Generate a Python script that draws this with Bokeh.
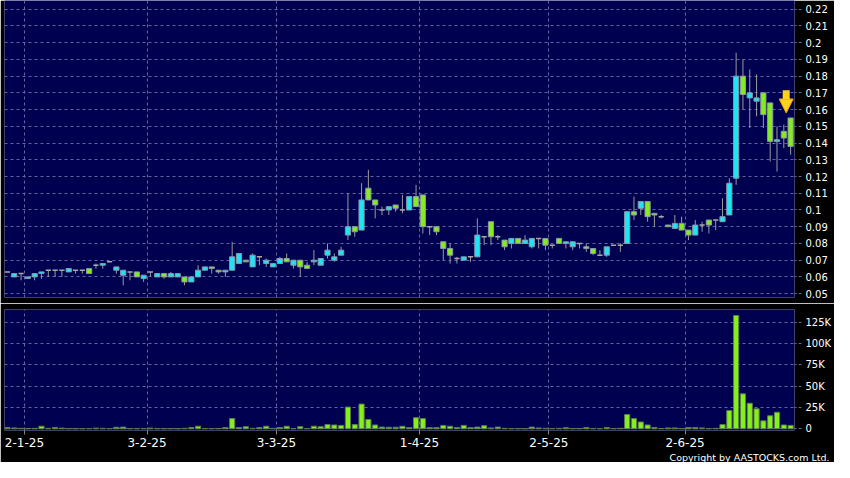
from bokeh.plotting import figure
from bokeh.layouts import column
from bokeh.models import Range1d, FixedTicker, Title, Arrow, NormalHead
from bokeh.embed import file_html
from bokeh.resources import INLINE

# ---- data (one entry per trading day, oldest first) ----
opens = [0.063, 0.060, 0.062, 0.059, 0.060, 0.062, 0.064, 0.064, 0.064, 0.063,
         0.064, 0.064, 0.065, 0.067, 0.067, 0.069, 0.064, 0.061, 0.063, 0.063,
         0.059, 0.063, 0.060, 0.062, 0.060, 0.060, 0.060, 0.057, 0.060, 0.064,
         0.066, 0.064, 0.063, 0.064, 0.068, 0.070, 0.066, 0.072, 0.068, 0.066,
         0.068, 0.071, 0.067, 0.070, 0.067, 0.069, 0.067, 0.073, 0.070, 0.073,
         0.085, 0.090, 0.088, 0.113, 0.106, 0.100, 0.100, 0.103, 0.100, 0.100,
         0.108, 0.109, 0.090, 0.090, 0.081, 0.077, 0.071, 0.070, 0.072, 0.072,
         0.084, 0.093, 0.084, 0.082, 0.080, 0.083, 0.080, 0.078, 0.083, 0.083,
         0.079, 0.083, 0.080, 0.078, 0.080, 0.078, 0.077, 0.073, 0.073, 0.079,
         0.079, 0.080, 0.099, 0.101, 0.105, 0.098, 0.096, 0.091, 0.089, 0.092,
         0.088, 0.085, 0.091, 0.094, 0.094, 0.093, 0.097, 0.119, 0.180, 0.167,
         0.165, 0.170, 0.164, 0.141, 0.147, 0.155]
highs = [0.063, 0.062, 0.062, 0.060, 0.062, 0.063, 0.064, 0.064, 0.064, 0.065,
         0.064, 0.064, 0.065, 0.068, 0.068, 0.069, 0.066, 0.064, 0.063, 0.063,
         0.061, 0.063, 0.062, 0.062, 0.063, 0.062, 0.060, 0.060, 0.067, 0.066,
         0.066, 0.064, 0.064, 0.081, 0.074, 0.070, 0.074, 0.072, 0.071, 0.068,
         0.072, 0.074, 0.070, 0.070, 0.069, 0.076, 0.071, 0.080, 0.074, 0.078,
         0.110, 0.090, 0.116, 0.124, 0.106, 0.102, 0.102, 0.103, 0.109, 0.108,
         0.115, 0.109, 0.090, 0.090, 0.081, 0.080, 0.072, 0.072, 0.072, 0.095,
         0.084, 0.093, 0.085, 0.082, 0.083, 0.083, 0.085, 0.083, 0.083, 0.083,
         0.079, 0.083, 0.081, 0.081, 0.080, 0.080, 0.077, 0.076, 0.078, 0.079,
         0.080, 0.099, 0.108, 0.105, 0.105, 0.098, 0.097, 0.091, 0.097, 0.096,
         0.088, 0.094, 0.093, 0.094, 0.094, 0.107, 0.119, 0.194, 0.190, 0.184,
         0.181, 0.170, 0.164, 0.150, 0.151, 0.155]
lows = [0.063, 0.060, 0.058, 0.059, 0.058, 0.059, 0.060, 0.060, 0.060, 0.063,
        0.062, 0.062, 0.062, 0.065, 0.065, 0.069, 0.062, 0.055, 0.058, 0.060,
        0.057, 0.060, 0.060, 0.059, 0.060, 0.060, 0.055, 0.057, 0.060, 0.064,
        0.062, 0.062, 0.060, 0.064, 0.068, 0.069, 0.066, 0.067, 0.066, 0.066,
        0.068, 0.069, 0.065, 0.060, 0.065, 0.067, 0.067, 0.071, 0.069, 0.073,
        0.082, 0.084, 0.088, 0.106, 0.095, 0.097, 0.097, 0.099, 0.098, 0.100,
        0.102, 0.086, 0.085, 0.085, 0.070, 0.068, 0.068, 0.070, 0.069, 0.072,
        0.079, 0.079, 0.082, 0.076, 0.077, 0.080, 0.080, 0.077, 0.077, 0.076,
        0.077, 0.080, 0.077, 0.076, 0.077, 0.075, 0.073, 0.073, 0.072, 0.079,
        0.075, 0.080, 0.094, 0.097, 0.093, 0.090, 0.095, 0.090, 0.089, 0.088,
        0.082, 0.085, 0.087, 0.086, 0.088, 0.093, 0.097, 0.115, 0.160, 0.149,
        0.156, 0.149, 0.129, 0.123, 0.137, 0.133]
closes = [0.063, 0.062, 0.062, 0.060, 0.062, 0.063, 0.064, 0.064, 0.064, 0.065,
          0.064, 0.064, 0.062, 0.067, 0.068, 0.069, 0.066, 0.064, 0.063, 0.060,
          0.061, 0.063, 0.062, 0.060, 0.062, 0.062, 0.057, 0.060, 0.064, 0.066,
          0.065, 0.063, 0.064, 0.072, 0.074, 0.069, 0.073, 0.072, 0.070, 0.068,
          0.071, 0.069, 0.070, 0.066, 0.065, 0.070, 0.071, 0.076, 0.072, 0.076,
          0.090, 0.087, 0.106, 0.106, 0.103, 0.100, 0.102, 0.101, 0.100, 0.108,
          0.102, 0.090, 0.090, 0.087, 0.077, 0.073, 0.071, 0.072, 0.072, 0.085,
          0.084, 0.084, 0.084, 0.078, 0.083, 0.080, 0.082, 0.083, 0.083, 0.079,
          0.079, 0.080, 0.081, 0.081, 0.080, 0.077, 0.074, 0.073, 0.078, 0.079,
          0.079, 0.099, 0.097, 0.105, 0.096, 0.097, 0.096, 0.090, 0.092, 0.088,
          0.085, 0.091, 0.091, 0.091, 0.094, 0.096, 0.116, 0.180, 0.169, 0.170,
          0.167, 0.157, 0.141, 0.142, 0.143, 0.138]
volumes_k = [1.5, 1.0, 0.5, 0.3, 0.5, 3.0, 0.5, 1.5, 0.8, 0.3,
             0.2, 0.2, 0.3, 0.8, 0.5, 0.3, 1.8, 2.0, 0.3, 0.2,
             0.3, 0.8, 0.3, 0.2, 0.3, 0.2, 0.5, 1.5, 3.0, 0.3,
             0.2, 0.3, 1.5, 12.0, 1.5, 2.5, 0.5, 1.5, 3.0, 0.5,
             1.5, 3.0, 0.3, 2.5, 0.3, 3.0, 2.5, 5.0, 4.5, 4.0,
             25.5, 5.0, 29.0, 11.0, 4.5, 2.0, 1.8, 1.8, 3.0, 1.5,
             13.0, 12.0, 1.5, 1.5, 4.0, 3.0, 1.5, 4.0, 1.5, 2.0,
             3.7, 1.0, 2.0, 0.5, 0.3, 0.3, 0.2, 2.0, 1.0, 0.5,
             0.3, 0.5, 1.2, 0.3, 0.3, 1.5, 0.3, 0.2, 1.5, 0.3,
             0.5, 16.8, 12.0, 8.0, 4.5, 1.5, 0.3, 1.0, 1.0, 0.3,
             1.5, 1.5, 1.0, 0.3, 0.5, 5.0, 21.5, 133.0, 41.0, 30.0,
             23.5, 9.3, 15.3, 19.4, 4.5, 4.0]
date_tick_index = [3, 21, 40, 61, 80, 100]
date_tick_labels = ["2-1-25", "3-2-25", "3-3-25", "1-4-25", "2-5-25", "2-6-25"]
price_ticks = [round(0.05 + 0.01 * k, 2) for k in range(18)]
volume_ticks = [0, 25000, 50000, 75000, 100000, 125000]
volume_tick_labels = ["0", "25K", "50K", "75K", "100K", "125K"]

# ---- styling ----
NAVY = "#000050"
GRID = "#6464a0"
UP = "#1ee4f4"
DOWN = "#86ec1e"
EDGE = "#8a96aa"
WICK = "#9a9a9a"
FONT = "DejaVu Sans"
BODY_W = 0.76

n = len(opens)
xs = [i + 0.5 for i in range(n)]
up = [i for i in range(n) if closes[i] > opens[i]]
dn = [i for i in range(n) if closes[i] < opens[i]]
dj = [i for i in range(n) if closes[i] == opens[i]]

xr = Range1d(0.07, n + 0.07)

p1 = figure(width=834, height=303, x_range=xr, y_range=Range1d(0.0477, 0.2252),
            y_axis_location="right", output_backend="svg", toolbar_location=None,
            min_border_left=4, min_border_right=39, min_border_top=0, min_border_bottom=6,
            background_fill_color=NAVY, border_fill_color="#000000", outline_line_color=None)

p2 = figure(width=834, height=159, x_range=xr, y_range=Range1d(-2000, 140000),
            y_axis_location="right", output_backend="svg", toolbar_location=None,
            min_border_left=4, min_border_right=39, min_border_top=6, min_border_bottom=10,
            background_fill_color=NAVY, border_fill_color="#000000", outline_line_color=None)

for p in (p1, p2):
    p.xaxis.ticker = FixedTicker(ticks=date_tick_index)
    p.xgrid.grid_line_color = GRID
    p.xgrid.grid_line_dash = "3 3"
    p.ygrid.grid_line_color = GRID
    p.ygrid.grid_line_dash = "3 3"
    p.yaxis.axis_line_color = None
    p.yaxis.major_tick_out = 7
    p.yaxis.major_tick_in = 0
    p.yaxis.major_tick_line_color = GRID
    p.yaxis.major_tick_line_dash = "3 2"
    p.yaxis.minor_tick_line_color = None
    p.yaxis.major_label_standoff = 4
    p.yaxis.major_label_text_color = "#ffffff"
    p.yaxis.major_label_text_font = FONT
    p.yaxis.major_label_text_font_size = "10px"

p1.xaxis.visible = False
p1.yaxis.ticker = FixedTicker(ticks=price_ticks)
p1.yaxis.major_label_overrides = {t: f"{t:g}" for t in price_ticks}

p2.yaxis.ticker = FixedTicker(ticks=volume_ticks)
p2.yaxis.major_label_overrides = dict(zip(volume_ticks, volume_tick_labels))
p2.xaxis.major_label_overrides = dict(zip(date_tick_index, date_tick_labels))
p2.xaxis.axis_line_color = None
p2.xaxis.major_tick_out = 4
p2.xaxis.major_tick_in = 0
p2.xaxis.major_tick_line_color = "#8a8a8a"
p2.xaxis.minor_tick_line_color = None
p2.xaxis.major_label_standoff = 3
p2.xaxis.major_label_text_color = "#ffffff"
p2.xaxis.major_label_text_font = FONT
p2.xaxis.major_label_text_font_size = "12px"

# ---- candles ----
p1.segment(x0=xs, y0=lows, x1=xs, y1=highs, line_color=WICK, line_width=1)
p1.vbar(x=[xs[i] for i in up], bottom=[opens[i] for i in up], top=[closes[i] for i in up],
        width=BODY_W, fill_color=UP, line_color=EDGE, line_width=1)
p1.vbar(x=[xs[i] for i in dn], bottom=[closes[i] for i in dn], top=[opens[i] for i in dn],
        width=BODY_W, fill_color=DOWN, line_color=EDGE, line_width=1)
p1.segment(x0=[xs[i] - BODY_W / 2 for i in dj], y0=[closes[i] for i in dj],
           x1=[xs[i] + BODY_W / 2 for i in dj], y1=[closes[i] for i in dj],
           line_color="#a8a8a8", line_width=1.5)

# marker arrow above the latest candle
ax = xs[-1] - 0.65
tip = highs[-1] + 0.003
p1.add_layout(Arrow(end=NormalHead(size=14, fill_color="#ffd21f", line_color="#e8a400", line_width=1),
                    x_start=ax, y_start=tip + 0.0135, x_end=ax, y_end=tip,
                    line_width=7, line_color="#ffd21f"))

# ---- volume ----
p2.vbar(x=xs, top=[v * 1000 for v in volumes_k], bottom=0, width=BODY_W,
        fill_color="#84f01c", line_color="#5a7a4a", line_width=1)

p2.add_layout(Title(text="Copyright by AASTOCKS.com Ltd.", align="right", offset=-35,
                    text_color="#ffffff", text_font=FONT, text_font_size="9.5px",
                    text_font_style="normal", standoff=0), "below")

layout = column(p1, p2, spacing=0)
open("out.html", "w").write(file_html(layout, INLINE))
